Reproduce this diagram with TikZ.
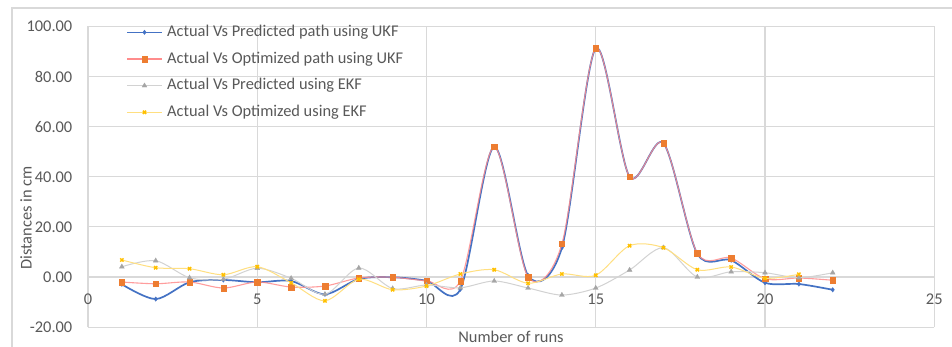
\documentclass[tikz,border=0pt]{standalone}
\usepackage{fontspec}
\setmainfont{Carlito}
\usetikzlibrary{plotmarks}
\definecolor{txt}{HTML}{595959}
\definecolor{gridc}{HTML}{D9D9D9}
\definecolor{ukfblue}{HTML}{4472C4}
\definecolor{ukforange}{HTML}{ED7D31}
\definecolor{redline}{HTML}{FF8C8C}
\definecolor{ekfgray}{HTML}{A5A5A5}
\definecolor{grayline}{HTML}{D2D2D2}
\definecolor{ekfyellow}{HTML}{FFC000}
\definecolor{yellowline}{HTML}{FFDF80}
\tikzset{
  lbl/.style={text=txt, inner sep=0pt},
  gridline/.style={draw=gridc, line width=1.1pt},
  serA/.style={draw=ukfblue, line width=1.7pt},
  serB/.style={draw=redline, line width=1.1pt},
  serC/.style={draw=grayline, line width=1pt},
  serD/.style={draw=yellowline, line width=1pt},
  mkA/.style={mark=diamond*, mark size=2.2pt, mark options={fill=ukfblue, draw=ukfblue, line width=0.4pt}},
  mkB/.style={mark=square*, mark size=2.7pt, mark options={fill=ukforange, draw=ukforange, line width=0.3pt}},
  mkC/.style={mark=triangle*, mark size=2.8pt, mark options={fill=ekfgray, draw=ekfgray, line width=0.3pt}},
  mkD/.style={mark=x, mark size=2.3pt, mark options={draw=ekfyellow, line width=1.5pt}},
}
\begin{document}
\begin{tikzpicture}[x=1pt, y=1pt, font=\fontsize{16.4}{19}\selectfont]
\useasboundingbox (0,0) rectangle (952,-347);
\fill[white] (0,0) rectangle (952,-347);
% chart area border
\draw[gridc, line width=1.2pt] (12,-347) -- (12,-8) -- (952,-8);
% plot coordinate system
\begin{scope}[shift={(88,-277)}, x=33.85pt, y=2.505pt]
  \foreach \v in {-20,0,...,100} \draw[gridline] (0,\v) -- (25,\v);
  \foreach \n in {0,5,...,25} \draw[gridline] (\n,-20) -- (\n,100);
  % y tick labels
  \foreach \v/\t in {-20/-20.00,0/0.00,20/20.00,40/40.00,60/60.00,80/80.00,100/100.00}
    \node[lbl, anchor=east] (yt\v) at ([xshift=-15.5pt]0,\v) {\t};
  % x tick labels
  \foreach \n in {0,5,10,15,20,25}
    \node[lbl] (xt\n) at ([yshift=-22pt]\n,0) {\n};
  % series 1: Actual Vs Predicted path using UKF
  \draw[serA] plot[smooth, tension=0.5] coordinates {
    (1,-2.9) (2,-8.8) (3,-2.1) (4,-1.2) (5,-2.1) (6,-1.6) (7,-6.9) (8,-0.8) (9,-0.1) (10,-1.5) (11,-4.9)
    (12,52.0) (13,0.6) (14,11.7) (15,91.3) (16,40.0) (17,53.4) (18,9.3) (19,6.7) (20,-2.3) (21,-2.8) (22,-5.1)};
  \draw[ukfblue] plot[only marks, mkA] coordinates {
    (1,-2.9) (2,-8.8) (3,-2.1) (4,-1.2) (5,-2.1) (6,-1.6) (7,-6.9) (8,-0.8) (9,-0.1) (10,-1.5) (11,-4.9)
    (12,52.0) (13,0.6) (14,11.7) (15,91.3) (16,40.0) (17,53.4) (18,9.3) (19,6.7) (20,-2.3) (21,-2.8) (22,-5.1)};
  % series 2: Actual Vs Optimized path using UKF
  \draw[serB, draw opacity=0.85] plot[smooth, tension=0.5] coordinates {
    (1,-2.0) (2,-2.7) (3,-2.0) (4,-4.4) (5,-2.0) (6,-4.0) (7,-3.6) (8,-0.4) (9,-0.1) (10,-1.5) (11,-1.6)
    (12,52.0) (13,0.0) (14,13.2) (15,91.3) (16,40.0) (17,53.4) (18,9.5) (19,7.6) (20,-0.7) (21,-0.4) (22,-1.3)};
  \draw[ukforange] plot[only marks, mkB] coordinates {
    (1,-2.0) (2,-2.7) (3,-2.0) (4,-4.4) (5,-2.0) (6,-4.0) (7,-3.6) (8,-0.4) (9,-0.1) (10,-1.5) (11,-1.6)
    (12,52.0) (13,0.0) (14,13.2) (15,91.3) (16,40.0) (17,53.4) (18,9.5) (19,7.6) (20,-0.7) (21,-0.4) (22,-1.3)};
  % series 3: Actual Vs Predicted using EKF
  \draw[serC] plot[smooth, tension=0.5] coordinates {
    (1,4.1) (2,6.5) (3,-0.3) (4,-0.9) (5,3.5) (6,-0.5) (7,-6.9) (8,3.6) (9,-4.6) (10,-3.2) (11,-4.3)
    (12,-1.6) (13,-4.4) (14,-7.2) (15,-4.4) (16,2.8) (17,11.7) (18,0.0) (19,2.1) (20,1.7) (21,-0.3) (22,1.7)};
  \draw[ekfgray] plot[only marks, mkC] coordinates {
    (1,4.1) (2,6.5) (3,-0.3) (4,-0.9) (5,3.5) (6,-0.5) (7,-6.9) (8,3.6) (9,-4.6) (10,-3.2) (11,-4.3)
    (12,-1.6) (13,-4.4) (14,-7.2) (15,-4.4) (16,2.8) (17,11.7) (18,0.0) (19,2.1) (20,1.7) (21,-0.3) (22,1.7)};
  % series 4: Actual Vs Optimized using EKF
  \draw[serD] plot[smooth, tension=0.5] coordinates {
    (1,6.8) (2,3.7) (3,3.3) (4,0.9) (5,4.1) (6,-2.3) (7,-9.5) (8,-0.9) (9,-5.1) (10,-3.6) (11,1.2)
    (12,2.9) (13,-2.5) (14,1.2) (15,0.7) (16,12.5) (17,11.7) (18,2.9) (19,4.0) (20,-0.5) (21,1.1)};
  \draw[ekfyellow] plot[only marks, mkD] coordinates {
    (1,6.8) (2,3.7) (3,3.3) (4,0.9) (5,4.1) (6,-2.3) (7,-9.5) (8,-0.9) (9,-5.1) (10,-3.6) (11,1.2)
    (12,2.9) (13,-2.5) (14,1.2) (15,0.7) (16,12.5) (17,11.7) (18,2.9) (19,4.0) (20,-0.5) (21,1.1)};
\end{scope}
% axis titles
\node[lbl, rotate=90] (ytitle) at (26,-218) {Distances in cm};
\node[lbl] (xtitle) at (511,-337) {Number of runs};
% legend
\foreach \i/\yy/\st/\mk/\tx in {
  1/32.3/serA/mkA/{Actual Vs Predicted path using UKF},
  2/59/serB/mkB/{Actual Vs Optimized path using UKF},
  3/85.7/serC/mkC/{Actual Vs Predicted using EKF},
  4/112.3/serD/mkD/{Actual Vs Optimized using EKF}} {
  \coordinate (la\i) at (127,-\yy);
  \coordinate (lb\i) at (162,-\yy);
  \draw[\st, line width=1.2pt] (la\i) -- (lb\i);
  \path plot[only marks, \mk] coordinates {(144.5,-\yy)};
  \node[lbl, anchor=west] (leg\i) at (167,-\yy) {\tx};
}
\end{tikzpicture}
\end{document}
